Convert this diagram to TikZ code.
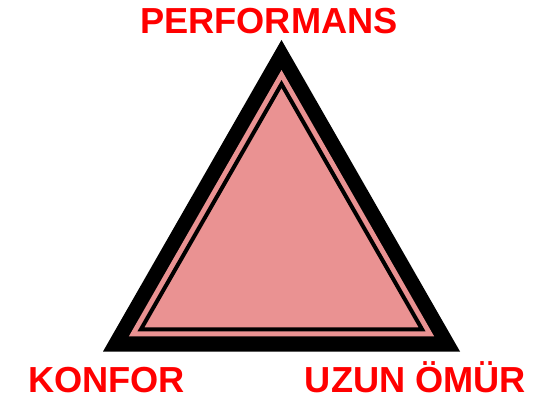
\documentclass[tikz,border=0pt]{standalone}
\usepackage{fontspec}
\setmainfont{Liberation Sans}
\usetikzlibrary{calc}
\definecolor{rosefill}{RGB}{234,146,146}
\definecolor{labelred}{RGB}{255,0,0}

\begin{document}
\begin{tikzpicture}[x=0.02cm, y=-0.02cm,
  corner/.style={font=\fontsize{20.6}{24}\selectfont\bfseries, text=labelred, anchor=base, inner sep=0pt}]
  \useasboundingbox (0,0) rectangle (550,401);
  \coordinate (top) at (281.5,40);
  \coordinate (left) at (103,351.5);
  \coordinate (right) at (460,351.5);
  \coordinate (ctr) at (281.5,247.67);
  \foreach \v in {top,left,right} {
    \coordinate (\v-a) at ($(ctr)!0.8555!(\v)$);
    \coordinate (\v-b) at ($(ctr)!0.788!(\v)$);
  }
  \fill[black] (top) -- (left) -- (right) -- cycle;
  \fill[rosefill] (top-a) -- (left-a) -- (right-a) -- cycle;
  \draw[line width=0.08cm, line join=miter] (top-b) -- (left-b) -- (right-b) -- cycle;
  \node[corner] (perf) at (269,34) {PERFORMANS};
  \node[corner] (konf) at (106.5,392.5) {KONFOR};
  \node[corner] (omur) at (415.5,392.5) {UZUN ÖMÜR};
\end{tikzpicture}
\end{document}
